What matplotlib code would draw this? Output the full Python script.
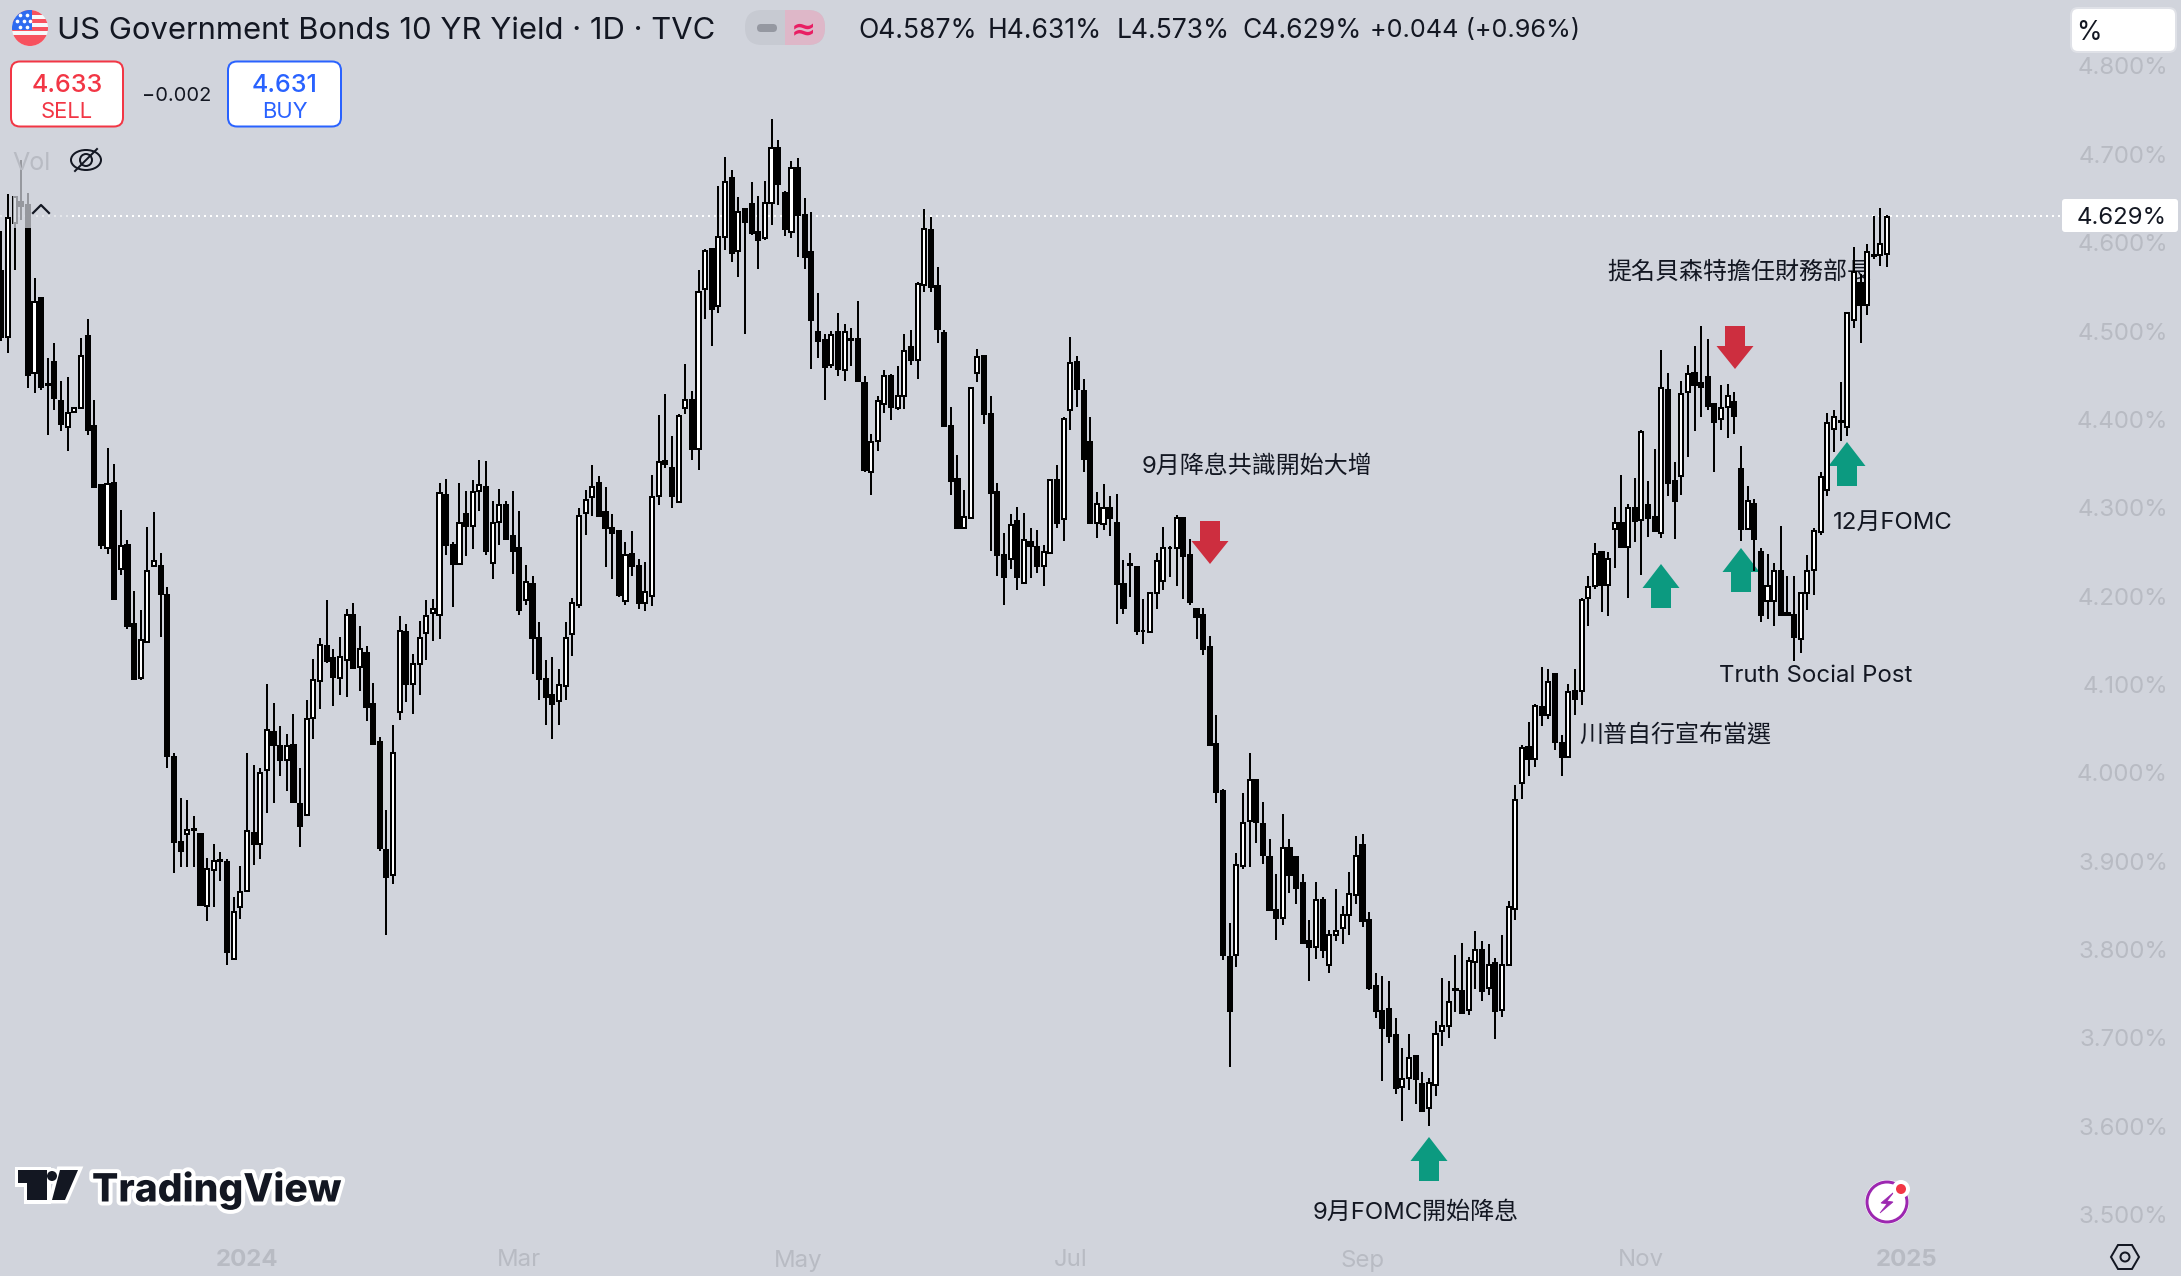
import matplotlib
matplotlib.use("Agg")
import matplotlib.pyplot as plt
import matplotlib.patheffects as pe
from matplotlib.patches import Rectangle, Circle, FancyBboxPatch, Polygon, Ellipse

# ---------------- data ----------------
opens = [
4.568,4.493,4.622,4.646,4.643,4.452,4.537,4.440,4.465,4.421,
4.391,4.408,4.413,4.494,4.392,4.326,4.255,4.328,4.231,4.258,
4.168,4.107,4.148,4.234,4.234,4.201,4.018,3.922,3.931,3.936,
3.931,3.849,3.890,3.901,3.899,3.789,3.848,3.866,3.932,3.919,
4.003,4.046,4.030,4.014,4.032,3.965,3.952,4.062,4.104,4.144,
4.130,4.107,4.128,4.179,4.120,4.136,4.078,4.035,3.913,3.884,
4.069,4.159,4.101,4.123,4.158,4.181,4.179,4.314,4.258,4.236,
4.293,4.279,4.319,4.323,4.238,4.284,4.303,4.268,4.254,4.196,
4.214,4.153,4.106,4.088,4.081,4.098,4.157,4.190,4.294,4.312,
4.328,4.295,4.277,4.274,4.194,4.248,4.234,4.192,4.200,4.313,
4.353,4.345,4.307,4.413,4.422,4.366,4.548,4.593,4.528,4.606,
4.673,4.591,4.638,4.644,4.612,4.605,4.645,4.707,4.656,4.612,
4.684,4.631,4.589,4.499,4.490,4.462,4.499,4.456,4.491,4.491,
4.441,4.340,4.376,4.417,4.449,4.413,4.426,4.482,4.467,4.552,
4.614,4.551,4.498,4.392,4.333,4.277,4.288,4.452,4.472,4.406,
4.318,4.246,4.242,4.285,4.215,4.261,4.256,4.234,4.249,4.331,
4.287,4.411,4.465,4.432,4.374,4.283,4.282,4.300,4.283,4.214,
4.236,4.233,4.161,4.159,4.203,4.217,4.255,4.254,4.288,4.246,
4.186,4.179,4.142,4.033,3.979,3.792,3.794,3.895,3.946,3.992,
3.942,3.905,3.845,3.836,3.915,3.905,3.875,3.810,3.803,3.856,
3.783,3.817,3.824,3.839,3.862,3.918,3.833,3.759,3.731,3.733,
3.703,3.645,3.655,3.680,3.648,3.621,3.647,3.708,3.714,3.755,
3.753,3.732,3.786,3.799,3.757,3.785,3.732,3.782,3.846,3.988,
4.029,4.016,4.075,4.066,4.112,4.034,4.018,4.093,4.093,4.198,
4.211,4.250,4.213,4.276,4.283,4.256,4.300,4.286,4.303,4.289,
4.271,4.433,4.330,4.336,4.431,4.453,4.441,4.448,4.418,4.400,
4.414,4.420,4.344,4.276,4.304,4.250,4.194,4.194,4.229,4.181,
4.179,4.151,4.203,4.230,4.273,4.320,4.389,4.398,4.391,4.513,
4.554,4.530,4.586,4.586,4.587]
closes = [
4.493,4.628,4.652,4.641,4.450,4.533,4.437,4.439,4.424,4.395,
4.407,4.413,4.472,4.388,4.323,4.258,4.327,4.197,4.257,4.166,
4.106,4.150,4.229,4.240,4.202,4.019,3.922,3.912,3.935,3.935,
3.850,3.891,3.900,3.900,3.797,3.842,3.865,3.934,3.919,4.000,
4.049,4.032,4.014,4.030,3.967,3.940,4.061,4.105,4.145,4.127,
4.109,4.131,4.179,4.119,4.140,4.075,4.033,3.915,3.882,4.023,
4.160,4.101,4.123,4.153,4.177,4.185,4.317,4.258,4.236,4.283,
4.279,4.318,4.326,4.251,4.283,4.303,4.265,4.251,4.184,4.216,
4.153,4.106,4.086,4.078,4.100,4.153,4.192,4.291,4.309,4.324,
4.291,4.277,4.271,4.201,4.247,4.234,4.192,4.205,4.312,4.352,
4.349,4.313,4.404,4.422,4.366,4.544,4.591,4.525,4.606,4.669,
4.588,4.635,4.623,4.611,4.603,4.645,4.707,4.666,4.616,4.684,
4.631,4.584,4.512,4.489,4.459,4.496,4.457,4.499,4.490,4.443,
4.343,4.375,4.421,4.449,4.414,4.426,4.477,4.467,4.553,4.616,
4.550,4.502,4.392,4.330,4.277,4.289,4.435,4.471,4.406,4.317,
4.246,4.222,4.281,4.222,4.263,4.257,4.234,4.250,4.331,4.283,
4.400,4.464,4.434,4.355,4.283,4.304,4.300,4.288,4.214,4.187,
4.235,4.160,4.160,4.204,4.240,4.254,4.254,4.288,4.245,4.193,
4.176,4.140,4.032,3.978,3.794,3.731,3.896,3.943,3.992,3.944,
3.907,3.845,3.836,3.915,3.884,3.870,3.808,3.803,3.856,3.800,
3.817,3.821,3.839,3.863,3.906,3.832,3.756,3.730,3.711,3.702,
3.643,3.654,3.677,3.654,3.617,3.649,3.705,3.714,3.741,3.754,
3.728,3.787,3.799,3.753,3.782,3.731,3.782,3.848,3.969,4.028,
4.016,4.076,4.065,4.103,4.035,4.018,4.092,4.084,4.196,4.210,
4.248,4.213,4.242,4.283,4.256,4.300,4.285,4.386,4.288,4.274,
4.435,4.328,4.308,4.429,4.451,4.439,4.437,4.415,4.397,4.413,
4.426,4.404,4.276,4.308,4.265,4.179,4.211,4.228,4.179,4.179,
4.154,4.203,4.228,4.274,4.335,4.396,4.403,4.397,4.520,4.567,
4.530,4.589,4.585,4.599,4.629]
highs = [
4.613,4.655,4.653,4.694,4.656,4.560,4.537,4.469,4.486,4.443,
4.448,4.413,4.492,4.514,4.422,4.326,4.368,4.350,4.298,4.264,
4.206,4.184,4.278,4.295,4.249,4.210,4.023,3.971,3.969,3.951,
3.931,3.904,3.919,3.910,3.902,3.860,3.895,4.023,4.009,4.006,
4.101,4.079,4.053,4.044,4.067,4.005,4.083,4.129,4.153,4.196,
4.140,4.154,4.186,4.192,4.166,4.144,4.102,4.041,3.958,4.054,
4.178,4.169,4.135,4.172,4.196,4.197,4.328,4.333,4.261,4.328,
4.319,4.332,4.354,4.353,4.308,4.321,4.308,4.319,4.296,4.235,
4.223,4.171,4.128,4.131,4.117,4.171,4.198,4.300,4.320,4.348,
4.336,4.324,4.293,4.274,4.261,4.274,4.242,4.239,4.337,4.405,
4.429,4.381,4.406,4.463,4.432,4.569,4.593,4.593,4.664,4.697,
4.682,4.652,4.638,4.669,4.653,4.670,4.740,4.716,4.659,4.692,
4.696,4.651,4.635,4.543,4.497,4.500,4.520,4.508,4.503,4.534,
4.449,4.383,4.426,4.456,4.451,4.461,4.497,4.501,4.555,4.638,
4.629,4.573,4.501,4.414,4.360,4.320,4.435,4.480,4.472,4.427,
4.328,4.271,4.293,4.301,4.294,4.277,4.275,4.258,4.331,4.348,
4.403,4.493,4.472,4.446,4.403,4.318,4.327,4.313,4.316,4.241,
4.249,4.233,4.197,4.205,4.249,4.278,4.257,4.292,4.290,4.265,
4.186,4.187,4.155,4.066,3.982,3.830,3.909,3.977,4.022,3.993,
3.967,3.925,3.885,3.954,3.925,3.905,3.885,3.833,3.877,3.859,
3.822,3.868,3.849,3.888,3.928,3.931,3.842,3.773,3.770,3.764,
3.723,3.689,3.704,3.680,3.662,3.655,3.719,3.768,3.764,3.794,
3.808,3.792,3.821,3.810,3.806,3.790,3.816,3.855,3.986,4.032,
4.057,4.078,4.120,4.118,4.112,4.043,4.101,4.118,4.198,4.223,
4.260,4.250,4.250,4.301,4.337,4.304,4.334,4.388,4.330,4.366,
4.479,4.453,4.352,4.443,4.462,4.483,4.506,4.491,4.418,4.439,
4.440,4.431,4.370,4.325,4.310,4.255,4.248,4.238,4.279,4.223,
4.223,4.203,4.246,4.277,4.340,4.407,4.411,4.442,4.522,4.595,
4.565,4.599,4.630,4.639,4.631]
lows = [
4.489,4.475,4.569,4.626,4.436,4.430,4.433,4.382,4.411,4.387,
4.364,4.408,4.413,4.382,4.322,4.253,4.248,4.197,4.224,4.163,
4.106,4.105,4.148,4.233,4.154,4.006,3.887,3.894,3.893,3.894,
3.850,3.832,3.848,3.878,3.783,3.789,3.835,3.866,3.896,3.902,
3.955,3.966,3.997,3.980,3.967,3.916,3.952,4.038,4.072,4.124,
4.076,4.088,4.086,4.119,4.093,4.059,4.033,3.912,3.817,3.874,
4.060,4.080,4.067,4.088,4.128,4.149,4.151,4.247,4.188,4.236,
4.245,4.253,4.296,4.247,4.219,4.258,4.265,4.225,4.179,4.190,
4.112,4.082,4.054,4.038,4.054,4.082,4.132,4.187,4.269,4.291,
4.290,4.233,4.219,4.199,4.190,4.223,4.185,4.183,4.189,4.303,
4.345,4.300,4.307,4.406,4.354,4.343,4.514,4.483,4.521,4.592,
4.578,4.561,4.497,4.609,4.570,4.603,4.620,4.643,4.608,4.605,
4.584,4.570,4.457,4.470,4.422,4.458,4.449,4.444,4.460,4.442,
4.341,4.314,4.364,4.407,4.399,4.411,4.412,4.462,4.446,4.544,
4.544,4.486,4.391,4.315,4.276,4.277,4.288,4.442,4.395,4.251,
4.223,4.190,4.231,4.207,4.215,4.220,4.226,4.212,4.248,4.277,
4.262,4.388,4.414,4.340,4.283,4.266,4.275,4.268,4.169,4.180,
4.199,4.156,4.146,4.158,4.185,4.207,4.222,4.211,4.197,4.190,
4.152,4.133,4.032,3.966,3.788,3.667,3.780,3.891,3.894,3.921,
3.897,3.845,3.811,3.828,3.864,3.852,3.808,3.764,3.789,3.790,
3.774,3.810,3.806,3.816,3.852,3.825,3.754,3.723,3.651,3.694,
3.637,3.606,3.641,3.625,3.617,3.600,3.634,3.691,3.700,3.729,
3.727,3.726,3.755,3.742,3.749,3.699,3.724,3.782,3.834,3.970,
3.997,4.007,4.053,4.061,4.026,3.996,4.018,4.066,4.077,4.166,
4.208,4.182,4.177,4.232,4.256,4.198,4.261,4.224,4.267,4.274,
4.266,4.313,4.265,4.315,4.358,4.387,4.403,4.411,4.340,4.388,
4.379,4.383,4.262,4.275,4.228,4.171,4.174,4.166,4.177,4.179,
4.127,4.136,4.184,4.201,4.269,4.313,4.363,4.376,4.381,4.503,
4.487,4.518,4.582,4.574,4.573]

y_ticks = [3.5, 3.6, 3.7, 3.8, 3.9, 4.0, 4.1, 4.2, 4.3, 4.4, 4.5, 4.6, 4.7, 4.8]
x_tick_pos = [37, 78, 120, 161, 205, 247, 287]
x_tick_labels = ["2024", "Mar", "May", "Jul", "Sep", "Nov", "2025"]
x_tick_bold = [True, False, False, False, False, False, True]
ohlc_legend = [("O4.587%", 858, 26.5), ("H4.631%", 988, 26.5), ("L4.573%", 1117, 26.5),
               ("C4.629%", 1242, 26.5), ("+0.044 (+0.96%)", 1370, 25.3)]
notes = [("9月降息共識開始大增", 1142, 464), ("提名貝森特擔任財務部長", 1607, 270),
         ("12月FOMC", 1833, 520), ("Truth Social Post", 1719, 673),
         ("川普自行宣布當選", 1579, 733), ("9月FOMC開始降息", 1313, 1210)]
ups = [(1429, 1137), (1661, 564), (1741, 548), (1847, 442)]
downs = [(1210, 564), (1735, 369)]

# ---------------- styling ----------------
BG = "#d1d4dc"
INK = "#131722"
AXIS = "#b8bbc3"
GREEN = "#0c9a80"
RED = "#cd2e3f"
FONT = ["Inter", "Noto Sans CJK TC", "DejaVu Sans"]
W, H = 2181, 1276
def fpx(px):
    return px * 0.72

fig = plt.figure(figsize=(W / 100, H / 100), dpi=100, facecolor=BG)

def px_axes(z):
    a = fig.add_axes([0, 0, 1, 1], zorder=z)
    a.set_xlim(0, W); a.set_ylim(H, 0); a.axis("off"); a.patch.set_alpha(0)
    return a

under = px_axes(1)
ax = fig.add_axes([0, 0, 1, 1], zorder=2)
over = px_axes(3)

# annotations drawn under the candles
for t, x, y in notes:
    under.text(x, y, t, fontsize=fpx(24), color=INK, family=FONT, ha="left", va="center_baseline")
for x, tip in ups:
    under.add_patch(Polygon([(x, tip), (x + 18.5, tip + 24), (x + 10, tip + 24), (x + 10, tip + 44),
                             (x - 10, tip + 44), (x - 10, tip + 24), (x - 18.5, tip + 24)],
                            closed=True, fc=GREEN, ec="none"))
for x, tip in downs:
    under.add_patch(Polygon([(x, tip), (x + 18.5, tip - 23), (x + 10, tip - 23), (x + 10, tip - 43),
                             (x - 10, tip - 43), (x - 10, tip - 23), (x - 18.5, tip - 23)],
                            closed=True, fc=RED, ec="none"))
under.hlines(216, 72, 2062, color="white", lw=fpx(2), linestyle=(0, (1, 2)))
under.hlines(216, 0, 72, color="white", lw=fpx(2), linestyle=(0, (1, 2)), alpha=0.45)

# candles
x0_px, step = 1.3, 6.64
ax.set_xlim((0 - x0_px) / step, (W - x0_px) / step)
ax.set_ylim(4.6 - (H - 242.7) / 883.6, 4.6 + 242.7 / 883.6)
ax.patch.set_alpha(0)
for s in ax.spines.values():
    s.set_visible(False)
ax.set_xticks([]); ax.set_yticks([])
idx = list(range(len(opens)))
ax.vlines(idx, lows, highs, color="black", lw=fpx(2), zorder=2, snap=True)
for i in idx:
    o, c = opens[i], closes[i]
    ax.add_patch(Rectangle((i - 0.31, min(o, c)), 0.62, abs(c - o),
                           fc="white" if c > o else "black", ec="black",
                           lw=fpx(2), zorder=3))

# axis labels
def y_px(v):
    return 242.7 + (4.6 - v) * 883.6
for v in y_ticks:
    over.text(2168, y_px(v), f"{v:.3f}%", fontsize=fpx(24), color=AXIS, family=FONT,
              ha="right", va="center_baseline")
for p, lab, b in zip(x_tick_pos, x_tick_labels, x_tick_bold):
    over.text(x0_px + step * p, 1258, lab, fontsize=fpx(24), color=AXIS, family=FONT,
              ha="center", va="center_baseline", fontweight="bold" if b else "normal")

# legend dim over the first candles
over.add_patch(Rectangle((13, 150), 20, 78, fc=BG, ec="none", alpha=0.72))

# top-right boxes
over.add_patch(FancyBboxPatch((2071, 8), 105, 44, boxstyle="round,pad=0,rounding_size=7",
                              fc="white", ec="#dfe1e7", lw=fpx(2)))
over.text(2076, 30, "%", fontsize=fpx(26), color=INK, family=FONT, ha="left", va="center_baseline")
over.add_patch(FancyBboxPatch((2062, 199), 116, 33, boxstyle="round,pad=0,rounding_size=3",
                              fc="white", ec="none"))
over.text(2167, 216, "4.629%", fontsize=fpx(24), color=INK, family=FONT, ha="right", va="center_baseline")

# header
over.text(57, 28, "US Government Bonds 10 YR Yield · 1D · TVC", fontsize=fpx(31), color=INK,
          family=FONT, ha="left", va="center_baseline")
clip = Circle((30, 28), 18, transform=over.transData)
over.add_patch(Circle((30, 28), 18, fc="#f7f8fa", ec="none"))
for y0, h in [(10, 5), (19, 4), (27, 4), (35, 11)]:
    r = Rectangle((10, y0), 40, h, fc="#f7525f", ec="none"); over.add_patch(r); r.set_clip_path(clip)
r = Rectangle((10, 10), 22, 20, fc="#2e6bf0", ec="none"); over.add_patch(r); r.set_clip_path(clip)
over.scatter([20, 27, 17, 24, 30, 20, 27], [15, 15, 21, 21, 21, 27, 27], s=7, c="white", zorder=5, linewidths=0)

# status pill
over.add_patch(FancyBboxPatch((745, 10), 80, 35, boxstyle="round,pad=0,rounding_size=17",
                              fc="#c7cad2", ec="none"))
p = Rectangle((785, 10), 40, 35, fc="#deb7c8", ec="none")
pill = FancyBboxPatch((745, 10), 80, 35, boxstyle="round,pad=0,rounding_size=17", fc="none", ec="none",
                      transform=over.transData)
over.add_patch(pill); over.add_patch(p); p.set_clip_path(pill)
over.add_patch(FancyBboxPatch((757, 24), 20, 8, boxstyle="round,pad=0,rounding_size=4", fc="#9598a1", ec="none"))
over.text(803, 28, "≈", fontsize=fpx(30), color="#e91e63", family=["DejaVu Sans"], ha="center",
          va="center_baseline", fontweight="bold")
for t, x, s in ohlc_legend:
    over.text(x, 28, t, fontsize=fpx(s), color=INK, family=FONT, ha="left", va="center_baseline")

# sell / buy
for x, w, col, price, side in [(11, 112, "#f23645", "4.633", "SELL"), (228, 113, "#2962ff", "4.631", "BUY")]:
    over.add_patch(FancyBboxPatch((x, 61.5), w, 65, boxstyle="round,pad=0,rounding_size=9",
                                  fc="white", ec=col, lw=fpx(2)))
    over.text(x + w / 2, 83, price, fontsize=fpx(25), color=col, family=FONT, ha="center",
              va="center_baseline", fontweight="medium")
    over.text(x + w / 2, 110, side, fontsize=fpx(22), color=col, family=FONT, ha="center", va="center_baseline")
over.text(177, 94, "\u22120.002", fontsize=fpx(20), color=INK, family=FONT, ha="center", va="center_baseline")

# Vol legend row
over.text(12, 161, "Vol", fontsize=fpx(25), color=AXIS, family=FONT, ha="left", va="center_baseline")
over.add_patch(Ellipse((86, 160), 30, 20, fc="none", ec=INK, lw=fpx(2)))
over.add_patch(Circle((86, 160), 6, fc="none", ec=INK, lw=fpx(2)))
over.plot([75, 97], [171, 149], color=INK, lw=fpx(2))
over.plot([33, 41, 49], [213, 205, 213], color=INK, lw=fpx(2.2))

# TradingView logo
STROKE = [pe.withStroke(linewidth=fpx(8), foreground="white")]
for poly in ([(18, 1170), (47, 1170), (47, 1200), (27, 1200), (27, 1183), (18, 1183)],
             [(60, 1170), (78, 1170), (65, 1200), (52, 1200)]):
    over.add_patch(Polygon(poly, closed=True, fc="white", ec="white", lw=fpx(7), joinstyle="miter"))
over.add_patch(Circle((52, 1176), 8, fc="white", ec="none"))
over.add_patch(Polygon([(18, 1170), (47, 1170), (47, 1200), (27, 1200), (27, 1183), (18, 1183)], closed=True, fc=INK, ec="none"))
over.add_patch(Polygon([(60, 1170), (78, 1170), (65, 1200), (52, 1200)], closed=True, fc=INK, ec="none"))
over.add_patch(Circle((52, 1176), 5, fc=INK, ec="none"))
over.text(92, 1186, "TradingView", fontsize=fpx(39), color=INK, family=["Inter"], fontweight="heavy",
          ha="left", va="center_baseline", path_effects=STROKE)

# bolt button
over.add_patch(Circle((1887, 1202), 22, fc="white", ec="none"))
over.add_patch(Circle((1887, 1202), 20, fc="white", ec="#9c27b0", lw=fpx(3)))
over.add_patch(Polygon([(1894, 1192), (1881, 1203), (1887, 1204), (1880, 1213), (1893, 1202), (1887, 1201)],
                       closed=True, fc="#9c27b0", ec="#9c27b0", lw=0.5))
over.add_patch(Circle((1901, 1189), 9, fc="white", ec="none"))
over.add_patch(Circle((1901, 1189), 5, fc="#f23645", ec="none"))

# settings hexagon
hx, hy, hr = 2125, 1257, 14
over.add_patch(Polygon([(hx - hr, hy), (hx - hr / 2, hy - 12), (hx + hr / 2, hy - 12), (hx + hr, hy),
                        (hx + hr / 2, hy + 12), (hx - hr / 2, hy + 12)], closed=True, fc="none", ec=INK, lw=fpx(2)))
over.add_patch(Circle((hx, hy), 4.5, fc="none", ec=INK, lw=fpx(2)))

fig.savefig("out.png", dpi=100, facecolor=BG)
